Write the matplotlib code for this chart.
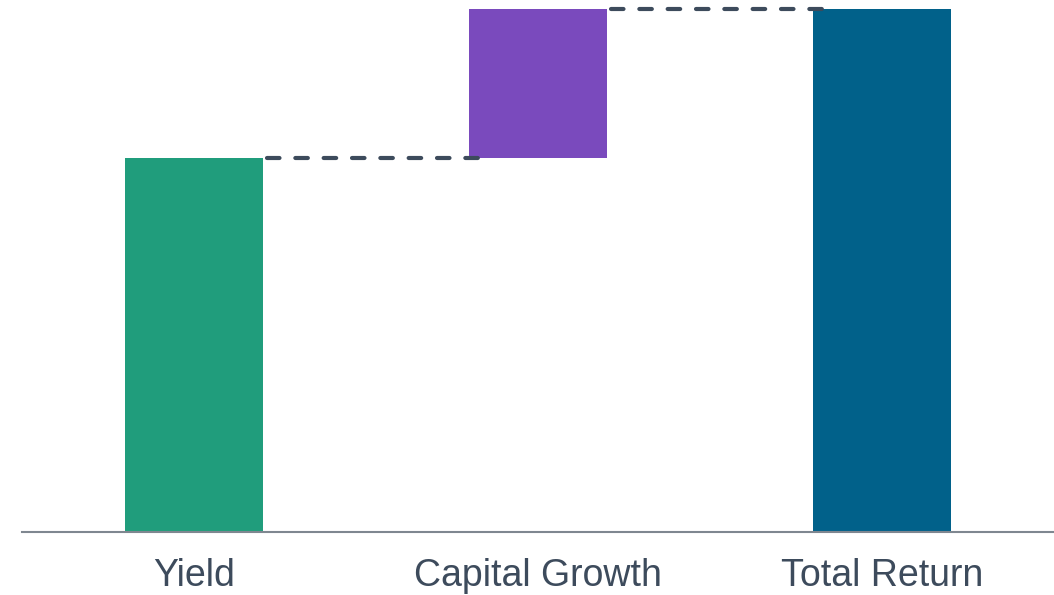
import matplotlib
matplotlib.use("Agg")
import matplotlib.pyplot as plt

categories = ["Yield", "Capital Growth", "Total Return"]
yield_value = 5.0
growth_value = 2.0
total_value = yield_value + growth_value

bottoms = [0, yield_value, 0]
heights = [yield_value, growth_value, total_value]
colors = ["#209D7C", "#7A4ABD", "#01618A"]

W, H = 1054, 595
fig = plt.figure(figsize=(W / 100, H / 100), dpi=100)
ax = fig.add_axes([22 / W, (H - 532) / H, 1 - 22 / W, (532 - 9) / H])

x = list(range(len(categories)))
bw = 0.4
ax.bar(x, heights, bottom=bottoms, width=bw, color=colors, zorder=2)

# connectors
levels = [yield_value, total_value]
for i, lvl in enumerate(levels):
    ax.plot([x[i] + bw / 2 + 0.012, x[i + 1] - bw / 2 + 0.026], [lvl, lvl],
            color="#3D4B5C", lw=3.0, linestyle=(0, (3.0, 3.8)),
            dash_capstyle="round", zorder=3, clip_on=False)

ax.set_xlim(-0.5, 2.5)
ax.set_ylim(0, total_value)
for s in ["top", "right", "left"]:
    ax.spines[s].set_visible(False)
ax.spines["bottom"].set_color("#7F8790")
ax.spines["bottom"].set_linewidth(1.5)
ax.set_yticks([])
ax.set_xticks(x)
ax.set_xticklabels(categories, fontsize=27, color="#3D4B5C", family="Liberation Sans")
ax.tick_params(axis="x", length=0, pad=19)

fig.savefig("out.png", dpi=100)
